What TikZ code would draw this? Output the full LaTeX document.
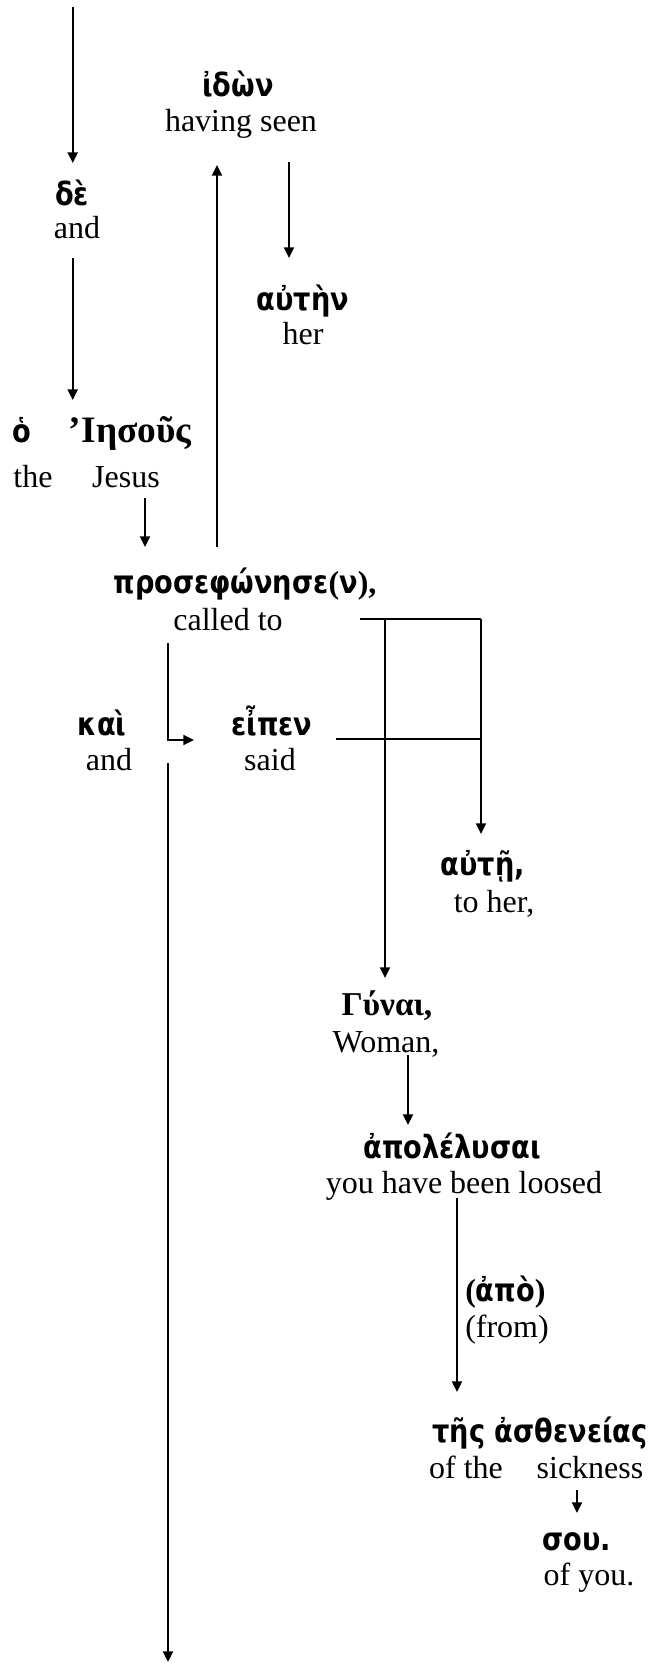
\documentclass[tikz,border=0pt]{standalone}
\usepackage{fontspec}
\setmainfont{Liberation Serif}
\newfontfamily\grk[FakeStretch=0.85]{DejaVu Sans}
\usetikzlibrary{arrows.meta}
\tikzset{
  word/.style={inner sep=0pt, anchor=center},
  gr/.style={word, font=\grk\bfseries\fontsize{24}{28}\selectfont, text height=0.72em, text depth=0.2em},
  gs/.style={word, font=\bfseries\fontsize{25}{29}\selectfont, text height=0.72em, text depth=0.2em},
  en/.style={word, font=\fontsize{24}{28}\selectfont, text height=0.68em, text depth=0.2em},
  link/.style={line width=1.5pt},
  arr/.style={link, -{Triangle[length=8pt,width=7.5pt]}}
}
\newcommand{\srf}[1]{{\normalfont\bfseries #1}}
\begin{document}
\begin{tikzpicture}[x=0.75pt, y=-0.75pt]
\useasboundingbox (0,0) rectangle (655,1664);

% words: Greek above, English gloss below
\node[gr] (ideon) at (238,93) {ἰδὼν};
\node[en] (having) at (241,128) {having seen};
\node[gr] (de) at (72,202) {δὲ};
\node[en] (deE) at (77,235) {and};
\node[gr] (auten) at (303,307) {αὐτὴν};
\node[en] (her) at (303,341) {her};
\node[gr] (ho) at (22,439) {ὁ};
\node[gs, font=\bfseries\fontsize{28}{32}\selectfont, anchor=east] (iesous) at (192,439) {’\hspace{1pt}Ιησοῦς};
\node[en] (the) at (33,484) {the};
\node[en] (jesus) at (126,484) {Jesus};
\node[gr] (pros) at (245,590) {προσεφώνησε\srf{(}ν\srf{),}};
\node[en] (called) at (228,627) {called to};
\node[gr] (kai) at (102,732) {καὶ};
\node[en] (kaiE) at (109,767) {and};
\node[gr] (eipen) at (272,732) {εἶπεν};
\node[en] (said) at (270,767) {said};
\node[gr] (aute) at (483,872) {αὐτῇ,};
\node[en] (toher) at (494,909) {to her,};
\node[gs] (gunai) at (387,1012) {Γύναι,};
\node[en] (woman) at (386,1049) {Woman,};
\node[gr] (apol) at (452,1155) {ἀπολέλυσαι};
\node[en] (loosed) at (464,1190) {you have been loosed};
\node[gr, anchor=west] (apo) at (465,1298) {\srf{(}ἀπὸ\srf{)}};
\node[en, anchor=west] (from) at (465,1334) {(from)};
\node[gr] (tes) at (540,1439) {τῆς ἀσθενείας};
\node[en] (ofthe) at (466,1475) {of the};
\node[en] (sick) at (590,1475) {sickness};
\node[gr] (sou) at (577,1547) {σου.};
\node[en] (ofyou) at (589,1582) {of you.};

% connector end points
\coordinate (top0) at (72.7,7);
\coordinate (top1) at (72.7,163);
\coordinate (de0) at (72.7,258);
\coordinate (de1) at (72.7,400);
\coordinate (je0) at (145,498);
\coordinate (je1) at (145,547);
\coordinate (up0) at (217,547);
\coordinate (up1) at (217,165);
\coordinate (id0) at (289,162);
\coordinate (id1) at (289,258);
\coordinate (ct0) at (360,619);
\coordinate (ctA) at (385,619);
\coordinate (ctB) at (481,619);
\coordinate (sd0) at (336,739);
\coordinate (sdB) at (481,739);
\coordinate (gu1) at (385,978);
\coordinate (au1) at (481,834);
\coordinate (kl0) at (168,643);
\coordinate (kl1) at (168,740);
\coordinate (kl2) at (194,740);
\coordinate (lo0) at (168,763);
\coordinate (lo1) at (168,1662);
\coordinate (wo0) at (408,1055);
\coordinate (wo1) at (408,1125);
\coordinate (ap0) at (457,1198);
\coordinate (ap1) at (457,1392);
\coordinate (si0) at (577,1490);
\coordinate (si1) at (577,1513);

% connectors
\draw[arr] (top0) -- (top1);
\draw[arr] (de0) -- (de1);
\draw[arr] (je0) -- (je1);
\draw[arr] (up0) -- (up1);
\draw[arr] (id0) -- (id1);
\draw[link] (ct0) -- (ctB);
\draw[link] (sd0) -- (sdB);
\draw[arr] (ctA) -- (gu1);
\draw[arr] (ctB) -- (au1);
\draw[arr] (kl0) -- (kl1) -- (kl2);
\draw[arr] (lo0) -- (lo1);
\draw[arr] (wo0) -- (wo1);
\draw[arr] (ap0) -- (ap1);
\draw[arr] (si0) -- (si1);
\end{tikzpicture}
\end{document}
